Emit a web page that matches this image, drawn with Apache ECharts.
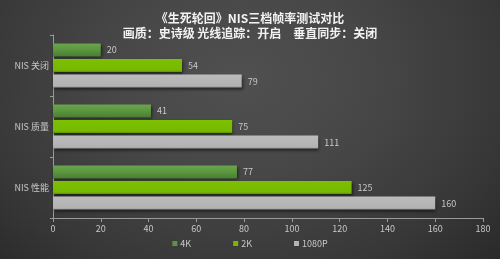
<!DOCTYPE html>
<html><head><meta charset="utf-8">
<script src="https://cdn.jsdelivr.net/npm/echarts@6/dist/echarts.min.js"></script>
<style>
html,body{margin:0;padding:0;width:500px;height:259px;overflow:hidden;}
body{background:radial-gradient(ellipse 75% 110% at 48% 30%, #505050 0%, #474747 35%, #383838 70%, #262626 100%);}
#c{width:500px;height:259px;}
</style></head>
<body><div id="c"></div>
<script>
const titleLine1 = '《生死轮回》NIS三档帧率测试对比';
const titleLine2 = '画质：史诗级 光线追踪：开启\u3000垂直同步：关闭';
const categories = ['NIS 关闭', 'NIS 质量', 'NIS 性能'];
const seriesNames = ['4K', '2K', '1080P'];
const values4K = [20, 41, 77];
const values2K = [54, 75, 125];
const values1080P = [79, 111, 160];
const xTicks = [0, 20, 40, 60, 80, 100, 120, 140, 160, 180];

const colors = [
  {type:'linear',x:0,y:0,x2:0,y2:1,colorStops:[{offset:0,color:'#6aa64c'},{offset:0.5,color:'#5c9640'},{offset:1,color:'#4a7e32'}]},
  {type:'linear',x:0,y:0,x2:0,y2:1,colorStops:[{offset:0,color:'#7cc000'},{offset:0.85,color:'#76b900'},{offset:1,color:'#5e9400'}]},
  {type:'linear',x:0,y:0,x2:0,y2:1,colorStops:[{offset:0,color:'#bcbcbc'},{offset:0.85,color:'#b2b2b2'},{offset:1,color:'#9a9a9a'}]}
];
const legendColors = ['#5a9440', '#76b900', '#b4b4b4'];
const allValues = [values4K, values2K, values1080P];

const chart = echarts.init(document.getElementById('c'), null, {renderer:'canvas'});
chart.setOption({
  backgroundColor: 'transparent',
  animation: false,
  title: {
    text: titleLine1 + '\n' + titleLine2,
    left: 'center', top: 6,
    textStyle: {color:'#f2f2f2', fontSize:12, fontWeight:'bold', lineHeight:15, fontFamily:'"Noto Sans CJK SC", sans-serif'}
  },
  legend: {
    bottom: 6, left: 'center',
    itemWidth: 5, itemHeight: 5, itemGap: 42,
    icon: 'rect',
    textStyle: {color:'#c8c8c8', fontSize:9, fontFamily:'"Noto Sans CJK SC", sans-serif', padding:[0,0,0,-2]},
    data: seriesNames.map((n,i)=>({name:n, itemStyle:{color:legendColors[i]}}))
  },
  grid: {left:53, right:17, top:35, bottom:41, containLabel:false},
  xAxis: {
    type:'value', min:xTicks[0], max:xTicks[xTicks.length-1], interval:xTicks[1]-xTicks[0],
    axisLine:{show:true, lineStyle:{color:'#9a9a9a', width:1}},
    axisTick:{show:true, length:4, lineStyle:{color:'#9a9a9a'}},
    axisLabel:{color:'#c8c8c8', fontSize:9, margin:6, fontFamily:'"Noto Sans CJK SC", sans-serif'},
    splitLine:{show:false}
  },
  yAxis: {
    type:'category', inverse:true, data: categories,
    axisLine:{show:true, lineStyle:{color:'#9a9a9a', width:1}},
    axisTick:{show:true, length:3, lineStyle:{color:'#9a9a9a'}},
    axisLabel:{color:'#c8c8c8', fontSize:9, margin:4, fontFamily:'"Noto Sans CJK SC", sans-serif'}
  },
  series: seriesNames.map((n,i)=>({
    name:n, type:'bar', data: allValues[i],
    barWidth:13, barGap:'20%',
    itemStyle:{color:colors[i], shadowColor:'rgba(0,0,0,0.55)', shadowBlur:3, shadowOffsetY:2, shadowOffsetX:1},
    label:{show:true, position:'right', distance:6, color:'#c8c8c8', fontSize:9, fontFamily:'"Noto Sans CJK SC", sans-serif'}
  }))
});
</script></body></html>
